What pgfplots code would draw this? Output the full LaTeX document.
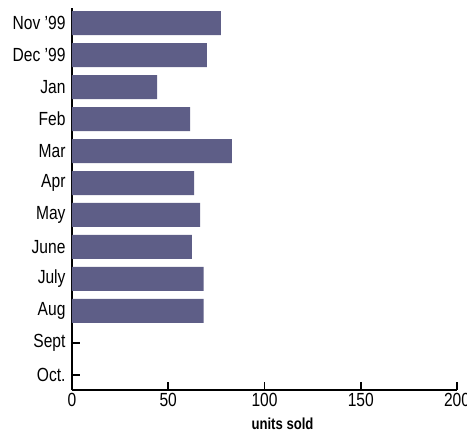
\documentclass[border=0pt]{standalone}
\usepackage{fontspec}
\setmainfont{Liberation Sans}[FakeStretch=0.82]
\usepackage{pgfplots}
\pgfplotsset{compat=1.18}
\usetikzlibrary{calc}
\definecolor{barblue}{RGB}{94,94,135}
\begin{document}
\begin{tikzpicture}
\begin{axis}[name=ax,
  scale only axis, width=385pt, height=382pt,
  xbar, bar width=24pt,
  xmin=0, xmax=200, ymin=-0.47, ymax=11.47,
  axis lines*=left,
  axis line style={line width=1.8pt},
  xtick={0,50,...,200},
  ytick={0,...,11},
  yticklabels={Oct.,Sept,Aug,July,June,May,Apr,Mar,Feb,Jan,Dec '99,Nov '99},
  major tick length=8pt,
  tick style={line width=1.6pt, black},
  tick align=inside,
  ticklabel style={font=\fontsize{19}{21}\selectfont},
  yticklabel style={xshift=-3pt},
  /pgf/number format/assume math mode=true,
  xlabel={\textbf{units sold}},
  xlabel style={font=\fontsize{16}{18}\selectfont, xshift=18pt, yshift=-4pt},
  clip=false,
]
\addplot[fill=barblue, draw=none] coordinates {
(77.4,11) (70.1,10) (44.2,9) (61.3,8) (83.1,7) (63.4,6)
(66.5,5) (62.3,4) (68.4,3) (68.4,2)};
\end{axis}
\pgfresetboundingbox
\path[use as bounding box] ($(ax.south west)+(-72pt,-46pt)$) rectangle ($(ax.north east)+(10pt,8pt)$);
\end{tikzpicture}
\end{document}
